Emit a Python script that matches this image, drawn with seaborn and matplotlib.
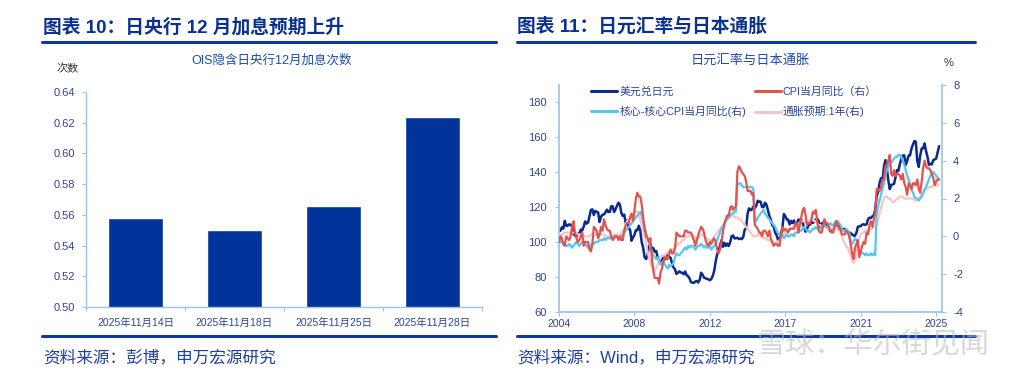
import numpy as np
import pandas as pd
import seaborn as sns
import matplotlib.pyplot as plt
from matplotlib.lines import Line2D

# ---- left chart: OIS implied BOJ December hikes ----
bar_dates = ["2025年11月14日", "2025年11月18日", "2025年11月25日", "2025年11月28日"]
bar_values = [0.558, 0.550, 0.566, 0.624]

# ---- right chart: monthly series, 2004-01 .. 2025-11 (one row per year) ----
usdjpy = [
    [106.3, 106.6, 108.5, 107.7, 112.2, 109.4, 109.4, 110.2, 110.0, 108.8, 104.7, 103.8],
    [103.3, 104.9, 104.9, 107.2, 106.6, 108.8, 111.9, 110.6, 111.2, 114.9, 118.5, 118.8],
    [115.5, 117.9, 117.3, 117.1, 111.5, 114.6, 115.6, 115.9, 117.0, 118.6, 117.3, 117.3],
    [120.6, 120.5, 117.3, 118.8, 120.8, 122.6, 121.6, 116.7, 115.0, 115.8, 111.1, 112.4],
    [107.9, 107.1, 100.8, 102.6, 104.1, 106.9, 106.8, 109.4, 106.6, 100.1, 96.8, 91.3],
    [90.3, 92.5, 97.8, 98.9, 96.6, 96.6, 94.5, 94.9, 91.4, 90.3, 89.1, 89.9],
    [91.1, 90.2, 90.7, 93.5, 91.8, 90.9, 87.7, 85.4, 84.4, 81.8, 82.5, 83.3],
    [82.6, 82.5, 81.6, 83.2, 81.1, 80.5, 79.3, 77.1, 76.8, 76.7, 77.5, 77.8],
    [76.9, 78.5, 82.5, 81.3, 79.7, 79.3, 79.0, 78.7, 78.2, 78.9, 80.8, 83.6],
    [89.1, 93.1, 94.9, 97.7, 101.1, 97.3, 99.7, 97.8, 99.2, 97.8, 100.0, 103.4],
    [103.8, 102.1, 102.3, 102.5, 101.8, 102.1, 101.7, 102.9, 107.1, 108.0, 116.4, 119.4],
    [118.3, 118.8, 120.4, 119.5, 120.8, 123.7, 123.3, 123.2, 120.1, 120.1, 122.6, 121.6],
    [118.2, 115.0, 113.0, 109.7, 109.0, 105.4, 104.1, 101.3, 101.9, 103.8, 108.6, 116.1],
    [114.9, 113.0, 112.9, 110.1, 112.2, 110.9, 112.4, 109.8, 110.8, 112.9, 112.8, 112.9],
    [110.9, 107.9, 106.0, 107.6, 109.7, 110.1, 111.5, 111.0, 111.9, 112.8, 113.4, 112.1],
    [108.9, 110.4, 111.2, 111.6, 109.8, 108.0, 108.2, 106.2, 107.5, 108.2, 108.9, 109.1],
    [109.3, 110.0, 107.7, 107.8, 107.2, 107.6, 106.7, 106.0, 105.6, 105.2, 104.4, 103.8],
    [103.7, 105.4, 108.7, 109.1, 109.1, 110.1, 110.2, 109.9, 110.2, 113.1, 114.0, 113.8],
    [114.8, 115.3, 118.6, 126.2, 128.8, 133.9, 136.6, 135.2, 143.2, 147.0, 142.2, 135.4],
    [130.4, 132.7, 133.0, 133.4, 137.1, 141.3, 140.9, 144.7, 147.9, 149.6, 149.7, 144.2],
    [146.5, 149.6, 149.7, 153.6, 155.9, 157.9, 157.5, 146.3, 143.1, 149.7, 153.7, 153.7],
    [156.5, 152.0, 149.1, 144.3, 144.8, 144.5, 146.9, 147.4, 147.9, 151.5, 155.0],
]

cpi_yoy = [
    [-0.3, 0.0, -0.1, -0.4, -0.5, 0.0, -0.1, -0.2, 0.0, 0.5, 0.8, 0.2],
    [-0.1, -0.3, -0.2, 0.0, 0.2, -0.5, -0.3, -0.3, -0.3, -0.7, -0.8, -0.4],
    [0.5, 0.4, 0.3, -0.1, 0.1, 0.5, 0.3, 0.9, 0.6, 0.4, 0.3, 0.3],
    [0.0, -0.2, -0.1, 0.0, 0.0, -0.2, 0.0, -0.2, -0.2, 0.3, 0.6, 0.7],
    [0.7, 1.0, 1.2, 0.8, 1.3, 2.0, 2.3, 2.1, 2.1, 1.7, 1.0, 0.4],
    [0.0, -0.1, -0.3, -0.1, -1.1, -1.8, -2.2, -2.2, -2.2, -2.5, -1.9, -1.7],
    [-1.3, -1.1, -1.1, -1.2, -0.9, -0.7, -0.9, -0.9, -0.6, 0.2, 0.1, 0.0],
    [0.0, 0.0, 0.0, 0.3, 0.3, 0.2, 0.2, 0.2, 0.0, -0.2, -0.5, -0.2],
    [0.1, 0.3, 0.5, 0.4, 0.2, -0.2, -0.4, -0.5, -0.3, -0.4, -0.2, -0.1],
    [-0.3, -0.7, -0.9, -0.7, -0.3, 0.2, 0.7, 0.9, 1.1, 1.1, 1.5, 1.6],
    [1.4, 1.5, 1.6, 3.4, 3.7, 3.6, 3.4, 3.3, 3.2, 2.9, 2.4, 2.4],
    [2.4, 2.2, 2.3, 0.6, 0.5, 0.4, 0.2, 0.2, 0.0, 0.3, 0.3, 0.2],
    [0.0, 0.3, -0.1, -0.3, -0.5, -0.4, -0.4, -0.5, -0.5, 0.1, 0.5, 0.3],
    [0.4, 0.3, 0.2, 0.4, 0.4, 0.4, 0.4, 0.7, 0.7, 0.2, 0.6, 1.0],
    [1.4, 1.5, 1.1, 0.6, 0.7, 0.7, 0.9, 1.3, 1.2, 1.4, 0.8, 0.3],
    [0.2, 0.2, 0.5, 0.9, 0.7, 0.7, 0.5, 0.3, 0.2, 0.2, 0.5, 0.8],
    [0.7, 0.4, 0.4, 0.1, 0.1, 0.1, 0.3, 0.2, 0.0, -0.4, -0.9, -1.2],
    [-0.6, -0.4, -0.2, -1.1, -0.8, -0.5, -0.3, -0.4, 0.2, 0.1, 0.6, 0.8],
    [0.5, 0.9, 1.2, 2.5, 2.5, 2.4, 2.6, 3.0, 3.0, 3.7, 3.8, 4.0],
    [4.3, 3.3, 3.2, 3.5, 3.2, 3.3, 3.3, 3.2, 3.0, 3.3, 2.8, 2.6],
    [2.2, 2.8, 2.7, 2.5, 2.8, 2.8, 2.7, 3.0, 2.5, 2.3, 2.9, 3.6],
    [4.0, 3.7, 3.6, 3.6, 3.5, 3.3, 3.1, 2.7, 2.9, 3.0, 3.0],
]

core_core_yoy = [
    [-0.2, -0.3, -0.3, -0.4, -0.4, -0.5, -0.5, -0.4, -0.5, -0.6, -0.5, -0.4],
    [-0.3, -0.4, -0.5, -0.4, -0.3, -0.3, -0.4, -0.5, -0.6, -0.5, -0.5, -0.4],
    [-0.4, -0.3, -0.3, -0.3, -0.2, -0.2, -0.2, -0.1, -0.2, -0.1, -0.1, -0.1],
    [-0.1, -0.1, 0.0, 0.0, 0.0, -0.1, 0.0, 0.0, 0.1, 0.2, 0.3, 0.4],
    [0.5, 0.6, 0.7, 0.8, 0.9, 1.0, 1.1, 1.2, 1.3, 1.1, 0.8, 0.5],
    [0.2, -0.1, -0.3, -0.6, -0.8, -1.0, -1.1, -1.2, -1.1, -1.3, -1.5, -1.4],
    [-1.3, -1.5, -1.6, -1.7, -1.5, -1.6, -1.5, -1.4, -1.1, -0.9, -1.0, -1.0],
    [-0.9, -0.8, -0.7, -0.6, -0.7, -0.5, -0.6, -0.5, -0.5, -0.6, -0.7, -0.6],
    [-0.5, -0.5, -0.4, -0.5, -0.6, -0.5, -0.6, -0.6, -0.5, -0.7, -0.6, -0.5],
    [-0.4, -0.2, 0.0, 0.2, 0.4, 0.5, 0.6, 0.8, 0.9, 1.0, 1.1, 1.2],
    [1.2, 1.3, 1.3, 2.7, 2.8, 2.8, 2.7, 2.6, 2.6, 2.6, 2.6, 2.6],
    [2.6, 2.6, 2.5, 0.8, 0.8, 1.0, 1.1, 1.2, 1.3, 1.4, 1.2, 1.1],
    [1.0, 0.9, 0.8, 0.7, 0.6, 0.5, 0.3, 0.2, 0.1, 0.0, 0.1, -0.1],
    [0.0, 0.1, 0.0, 0.0, 0.1, 0.1, 0.0, 0.2, 0.2, 0.2, 0.3, 0.3],
    [0.4, 0.5, 0.4, 0.3, 0.3, 0.2, 0.3, 0.4, 0.4, 0.5, 0.4, 0.4],
    [0.4, 0.5, 0.6, 0.6, 0.5, 0.5, 0.6, 0.7, 0.6, 0.6, 0.7, 0.8],
    [0.8, 0.7, 0.6, 0.4, 0.3, 0.3, 0.4, 0.3, 0.2, -0.2, -0.4, -0.3],
    [-0.1, -0.2, -0.3, -0.8, -0.8, -0.9, -0.9, -1.0, -0.9, -1.0, -1.0, -0.9],
    [-1.0, -0.9, -1.0, 1.2, 1.6, 1.9, 2.2, 2.5, 2.8, 3.2, 3.5, 3.7],
    [3.9, 3.9, 4.0, 4.1, 4.2, 4.2, 4.3, 4.3, 4.2, 4.0, 3.8, 3.5],
    [3.2, 3.0, 2.8, 2.5, 2.3, 2.1, 2.0, 2.0, 1.9, 2.0, 2.1, 2.3],
    [2.5, 2.6, 2.8, 3.0, 3.2, 3.3, 3.4, 3.3, 3.2, 3.1, 3.0],
]

expect_1y = [
    [0.1, 0.1, 0.1, 0.1, 0.2, 0.2, 0.2, 0.2, 0.2, 0.2, 0.2, 0.2],
    [0.2, 0.1, 0.1, 0.1, 0.1, 0.0, 0.0, 0.0, 0.0, 0.0, 0.1, 0.1],
    [0.1, 0.1, 0.1, 0.1, 0.1, 0.1, 0.1, 0.1, 0.0, 0.0, 0.0, 0.0],
    [0.0, 0.0, 0.1, 0.1, 0.1, 0.1, 0.1, 0.2, 0.3, 0.4, 0.6, 0.8],
    [0.9, 1.0, 1.1, 1.2, 1.3, 1.3, 1.3, 1.1, 0.9, 0.6, 0.3, 0.0],
    [-0.4, -0.8, -1.1, -1.4, -1.6, -1.8, -1.8, -1.7, -1.5, -1.3, -1.1, -1.0],
    [-1.0, -1.0, -0.9, -0.9, -0.8, -0.8, -0.7, -0.7, -0.6, -0.5, -0.4, -0.4],
    [-0.3, -0.2, -0.2, -0.1, 0.0, 0.0, 0.0, 0.1, 0.0, 0.0, -0.1, -0.1],
    [-0.1, 0.0, 0.1, 0.1, 0.0, -0.1, -0.1, -0.2, -0.2, -0.2, -0.1, 0.0],
    [0.1, 0.2, 0.3, 0.4, 0.5, 0.6, 0.7, 0.8, 0.9, 1.0, 1.0, 1.1],
    [1.1, 1.0, 1.0, 1.0, 0.9, 0.9, 0.8, 0.7, 0.6, 0.5, 0.4, 0.3],
    [0.2, 0.1, 0.0, 0.0, 0.0, 0.1, 0.1, 0.0, 0.0, -0.1, -0.1, -0.1],
    [-0.2, -0.2, -0.3, -0.3, -0.4, -0.4, -0.3, -0.3, -0.2, -0.1, 0.0, 0.1],
    [0.2, 0.3, 0.3, 0.4, 0.4, 0.5, 0.5, 0.6, 0.6, 0.6, 0.7, 0.8],
    [0.8, 0.8, 0.7, 0.7, 0.8, 0.8, 0.9, 0.9, 0.8, 0.8, 0.7, 0.6],
    [0.6, 0.5, 0.5, 0.5, 0.5, 0.4, 0.4, 0.4, 0.4, 0.5, 0.5, 0.5],
    [0.4, 0.3, 0.2, 0.0, -0.2, -0.4, -0.5, -0.6, -0.8, -1.0, -1.3, -1.4],
    [-1.2, -0.8, -0.4, -0.1, 0.1, 0.2, 0.2, 0.3, 0.3, 0.3, 0.3, 0.4],
    [0.4, 0.5, 0.5, 0.6, 0.9, 1.2, 1.5, 1.8, 2.0, 2.1, 2.1, 2.0],
    [2.0, 1.9, 1.8, 1.8, 1.9, 2.0, 2.0, 2.1, 2.1, 2.1, 2.0, 2.0],
    [2.0, 2.0, 2.0, 2.0, 2.0, 1.9, 1.9, 1.9, 2.0, 2.1, 2.2, 2.3],
    [2.4, 2.5, 2.5, 2.6, 2.6, 2.6, 2.7, 2.7, 2.7, 2.7, 2.7],
]

year_ticks = ["2004-01-01", "2008-05-01", "2012-09-01", "2017-01-01", "2021-05-01", "2025-09-01"]
year_labels = ["2004", "2008", "2012", "2017", "2021", "2025"]

# colours
NAVY = "#0B318F"
RULE = "#0A3A9E"
AXIS = "#9DC3E6"
TICK_TXT = "#2C4595"
BAR = "#00349A"

sns.set_theme(style="white")
plt.rcParams["font.family"] = ["Liberation Sans", "Noto Sans CJK SC", "DejaVu Sans"]
plt.rcParams["axes.unicode_minus"] = False

W, H = 1024, 377
fig = plt.figure(figsize=(W / 100, H / 100), dpi=100)


def fx(x):
    return x / W


def fy(y):
    return 1 - y / H


# ---- headings, rules, sources ----
fig.text(fx(43), fy(27), "图表 10：日央行 12 月加息预期上升", fontsize=13.5, fontweight="bold",
         color=NAVY, ha="left", va="center")
fig.text(fx(517), fy(27), "图表 11：日元汇率与日本通胀", fontsize=13.5, fontweight="bold",
         color=NAVY, ha="left", va="center")
for x0, x1 in [(42, 496), (517, 975)]:
    for y in (42, 335.7):
        fig.add_artist(Line2D([fx(x0), fx(x1)], [fy(y), fy(y)], color=RULE, lw=2.2))
fig.text(fx(43), fy(357), "资料来源：彭博，申万宏源研究", fontsize=12, color="#1E40A0",
         ha="left", va="center")
fig.text(fx(517), fy(357), "资料来源：Wind，申万宏源研究", fontsize=12, color="#1E40A0",
         ha="left", va="center")
fig.text(fx(757), fy(345), "雪球：华尔街见闻", fontsize=21, color="#B8B8B8", alpha=0.55,
         ha="left", va="center")

# ---- left: bar chart ----
ax1 = fig.add_axes([fx(86), fy(307), 396 / W, 215 / H])
sns.barplot(x=bar_dates, y=bar_values, color=BAR, saturation=1, width=0.56, ax=ax1)
ax1.set_ylim(0.50, 0.64)
ax1.set_yticks(np.arange(0.50, 0.641, 0.02))
ax1.set_yticklabels([f"{v:.2f}" for v in np.arange(0.50, 0.641, 0.02)])
ax1.set_xlim(-0.5, len(bar_dates) - 0.5)
ax1.set_xticks(np.arange(-0.5, len(bar_dates)), minor=True)
ax1.tick_params(axis="x", which="major", length=0, pad=8, labelsize=7.5, labelcolor=TICK_TXT)
ax1.tick_params(axis="x", which="minor", length=3, width=0.8, color=AXIS, bottom=True)
ax1.tick_params(axis="y", length=3, width=0.8, color=AXIS, left=True, pad=5,
                labelsize=8, labelcolor=TICK_TXT)
ax1.set_xlabel("")
ax1.set_ylabel("")
for s in ("top", "right"):
    ax1.spines[s].set_visible(False)
for s in ("left", "bottom"):
    ax1.spines[s].set_color(AXIS)
    ax1.spines[s].set_linewidth(1.0)
fig.text(fx(272), fy(60), "OIS隐含日央行12月加息次数", fontsize=9, color="#1F4CA8",
         ha="center", va="center")
fig.text(fx(68), fy(69), "次数", fontsize=8, color="#333333", ha="center", va="center")

# ---- right: line chart with twin axis ----
dates = pd.date_range("2004-01-01", periods=sum(len(r) for r in usdjpy), freq="MS")
df = pd.DataFrame({
    "date": dates,
    "usdjpy": np.concatenate(usdjpy),
    "cpi": np.concatenate(cpi_yoy),
    "core": np.concatenate(core_core_yoy),
    "expect": np.concatenate(expect_1y),
})

ax2 = fig.add_axes([fx(559), fy(312), 383 / W, 227 / H])
ax3 = ax2.twinx()
sns.lineplot(data=df, x="date", y="usdjpy", ax=ax2, color="#0A2A8C", lw=1.8, label="美元兑日元")
sns.lineplot(data=df, x="date", y="expect", ax=ax3, color="#F6C5C5", lw=1.6, label="通胀预期:1年(右)")
sns.lineplot(data=df, x="date", y="core", ax=ax3, color="#55C5F2", lw=1.6, label="核心-核心CPI当月同比(右)")
sns.lineplot(data=df, x="date", y="cpi", ax=ax3, color="#E2534E", lw=1.6, label="CPI当月同比（右）")

ax2.set_ylim(60, 190)
ax2.set_yticks(range(60, 181, 20))
ax3.set_ylim(-4, 8)
ax3.set_yticks(range(-4, 9, 2))
ax2.set_xlim(pd.Timestamp("2004-01-01"), pd.Timestamp("2026-01-01"))
ax2.set_xticks(pd.to_datetime(year_ticks))
ax2.set_xticklabels(year_labels)
ax2.tick_params(axis="x", length=3, width=0.8, color=AXIS, bottom=True, pad=2,
                labelsize=7.5, labelcolor=TICK_TXT)
ax2.tick_params(axis="y", length=3, width=0.8, color=AXIS, left=True, pad=6,
                labelsize=8, labelcolor=TICK_TXT)
ax3.tick_params(axis="y", length=3, width=0.8, color=AXIS, right=True, pad=5,
                labelsize=8, labelcolor=TICK_TXT)
for a in (ax2, ax3):
    a.set_xlabel("")
    a.set_ylabel("")
    a.spines["top"].set_visible(False)
ax2.spines["right"].set_visible(False)
for s in ("left", "bottom"):
    ax2.spines[s].set_color(AXIS)
ax3.spines["left"].set_visible(False)
ax3.spines["bottom"].set_visible(False)
ax3.spines["right"].set_color(AXIS)
ax3.spines["right"].set_linewidth(1.2)

h2, l2 = ax2.get_legend_handles_labels()
h3, l3 = ax3.get_legend_handles_labels()
handles = dict(zip(l2 + l3, h2 + h3))
order = ["美元兑日元", "核心-核心CPI当月同比(右)", "CPI当月同比（右）", "通胀预期:1年(右)"]
if ax2.get_legend():
    ax2.get_legend().remove()
if ax3.get_legend():
    ax3.get_legend().remove()
leg = fig.legend([handles[k] for k in order], order, ncol=2, frameon=False,
                 loc="upper left", bbox_to_anchor=(fx(591), fy(86)), fontsize=7.8,
                 handlelength=2.4, handletextpad=0.2, columnspacing=0.8,
                 labelspacing=0.9, borderpad=0, borderaxespad=0)
for t in leg.get_texts():
    t.set_color(TICK_TXT)
for lh in leg.get_lines():
    lh.set_linewidth(2.2)

fig.text(fx(750), fy(60), "日元汇率与日本通胀", fontsize=9.5, color="#1F4CA8",
         ha="center", va="center")
fig.text(fx(949), fy(63), "%", fontsize=8, color="#333333", ha="center", va="center")

fig.savefig("out.png", dpi=100)
